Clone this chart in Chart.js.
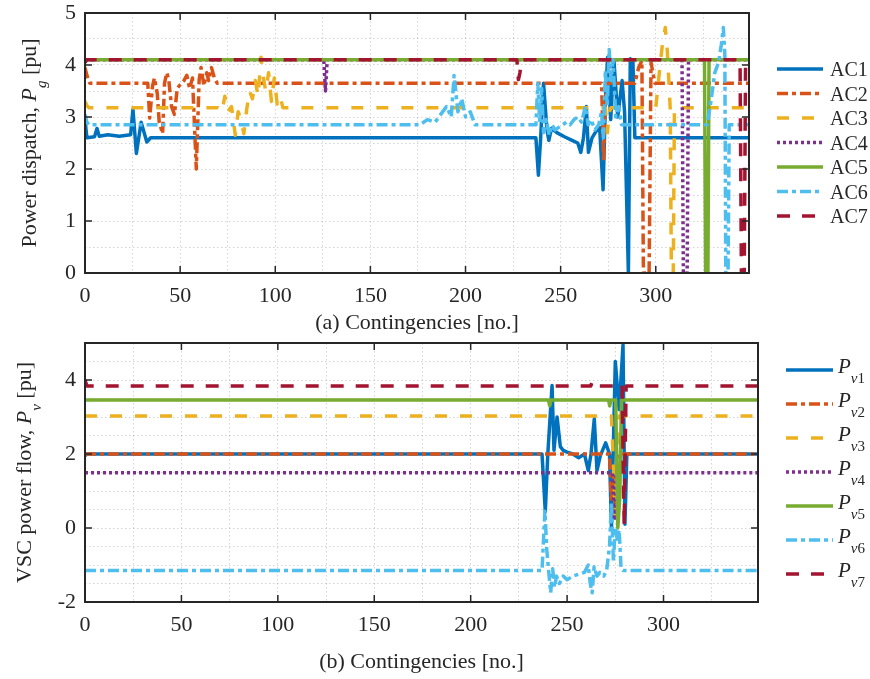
<!DOCTYPE html>
<html>
<head>
<meta charset="utf-8">
<script src="https://cdn.jsdelivr.net/npm/chart.js@4.4.1/dist/chart.umd.min.js"></script>
<style>
  html, body { margin: 0; padding: 0; background: #fff; }
  #wrap { position: relative; width: 870px; height: 679px; }
  canvas { position: absolute; left: 0; }
  #top { top: 0; }
  #bot { top: 340px; }
</style>
</head>
<body>
<div id="wrap">
  <canvas id="top" width="870" height="340"></canvas>
  <canvas id="bot" width="870" height="339"></canvas>
</div>
<script>
// axis ticks (grid every 25 / 0.5, labels on the coarser steps)
const X_MAX = 349;
const xGrid = [0, 25, 50, 75, 100, 125, 150, 175, 200, 225, 250, 275, 300, 325];
const xLabels = [0, 50, 100, 150, 200, 250, 300];
const topYGrid = [0, 0.5, 1, 1.5, 2, 2.5, 3, 3.5, 4, 4.5, 5];
const topYLabels = [0, 1, 2, 3, 4, 5];
const botYGrid = [-2, -1.5, -1, -0.5, 0, 0.5, 1, 1.5, 2, 2.5, 3, 3.5, 4, 4.5, 5];
const botYLabels = [-2, 0, 2, 4];

// (a) generator dispatch, breakpoints
const ac1X = [0, 1, 5, 6.3, 7.5, 12, 18, 24, 25.2, 27, 29.5, 32.5, 34.5, 237, 238.3, 239.5, 241, 242.8, 243.8, 245.2, 248, 252, 256, 259, 260.6, 262, 263.5, 264.6, 266.5, 268.5, 270.5, 272.3, 273.7, 274.7, 276.3, 278, 280, 282.3, 283.6, 285.6, 286.6, 288, 289, 349];
const ac1Y = [2.95, 2.6, 2.62, 2.78, 2.63, 2.66, 2.63, 2.66, 3.15, 2.3, 2.9, 2.52, 2.6, 2.6, 1.88, 2.6, 3.65, 2.75, 2.55, 2.78, 2.7, 2.62, 2.55, 2.5, 2.32, 2.6, 3.2, 2.32, 2.6, 2.72, 2.8, 1.6, 3.5, 4.15, 2.95, 4.1, 3.0, 3.7, 3.1, 0, 4.12, 4.05, 2.6, 2.6];
const ac2X = [0, 1, 2.5, 33, 34, 35.5, 36.5, 38, 39, 40.8, 41.8, 43, 44, 45.5, 47, 48.5, 50, 52, 53.5, 55, 56.5, 58.5, 60, 61, 62.5, 64, 65, 66.5, 68, 69.5, 271.5, 272.6, 273.5, 274.5, 289, 291, 292.7, 293.5, 296.5, 297.5, 299.5, 349];
const ac2Y = [3.95, 3.8, 3.65, 3.65, 2.98, 3.6, 3.75, 3.45, 2.9, 2.68, 3.65, 3.85, 3.72, 3.2, 3.05, 3.55, 3.62, 3.7, 3.8, 3.55, 3.75, 2.0, 3.72, 3.95, 3.6, 3.85, 3.7, 3.95, 3.75, 3.65, 3.65, 2.15, 3.3, 3.65, 3.65, 3.95, 4.08, 0, 0, 4.05, 3.65, 3.65];
const ac3X = [0, 1, 2, 70, 72, 73.5, 75, 77, 79, 80.5, 82, 83.5, 85, 86.5, 88, 89.5, 91, 92.5, 93.5, 95, 96.5, 98, 99.5, 101, 102.5, 104, 273.5, 274.6, 275.6, 276.5, 300, 302, 303.5, 305, 306, 307, 307.6, 308.2, 309.2, 309.8, 349];
const ac3Y = [3.3, 3.22, 3.18, 3.18, 3.1, 3.4, 3.1, 3.2, 2.65, 3.1, 2.95, 2.68, 3.15, 3.5, 3.35, 3.7, 3.4, 4.15, 3.8, 3.5, 3.85, 3.3, 3.75, 3.25, 3.4, 3.18, 3.18, 2.7, 3.1, 3.18, 3.18, 3.9, 4.4, 4.72, 4.3, 3.6, 3.15, 0, 0, 3.18, 3.18];
const ac4X = [0, 125.5, 126.4, 127.3, 274.6, 275.6, 276.6, 313.8, 314.5, 316.5, 317.2, 349];
const ac4Y = [4.1, 4.1, 3.5, 4.1, 4.1, 3.85, 4.1, 4.1, 0, 0, 4.1, 4.1];
const ac5X = [0, 325.6, 326.2, 327.4, 328, 349];
const ac5Y = [4.1, 4.1, 0, 0, 4.1, 4.1];
const ac6X = [0, 1, 2, 176, 180, 184, 187, 190, 192.5, 194, 196, 198, 200, 202.5, 205, 237, 238, 239, 240, 241, 242.5, 244, 245.5, 247, 249, 251, 253, 255, 257, 259, 261, 263, 264.5, 266, 268, 270, 271.5, 272.5, 273.5, 274.5, 275.5, 276.5, 277.5, 279, 280.5, 282, 327, 329, 331, 333, 334.5, 335.5, 336.3, 336.8, 338, 338.6, 349];
const ac6Y = [3.05, 2.9, 2.85, 2.85, 2.95, 2.9, 3.05, 3.2, 3.0, 3.8, 3.1, 3.35, 3.0, 3.1, 2.85, 2.85, 3.65, 2.9, 3.55, 2.7, 2.95, 2.65, 2.85, 2.75, 2.8, 2.85, 2.9, 2.85, 2.95, 3.0, 2.9, 3.2, 2.85, 2.95, 2.75, 2.85, 3.1, 2.6, 3.9, 3.2, 4.3, 3.7, 4.1, 3.0, 3.2, 2.85, 2.85, 3.3, 3.85, 4.05, 4.4, 4.72, 4.2, 0, 0, 2.85, 2.85];
const ac7X = [0, 1, 227, 227.8, 228.6, 229.4, 344.3, 345, 346.5, 347.2, 349];
const ac7Y = [4.05, 4.1, 4.1, 3.72, 3.85, 4.1, 4.1, 0, 0, 4.1, 4.1];

// (b) VSC power flows
const pv1X = [0, 1, 237, 238.7, 240, 242.2, 243.2, 244.8, 246.5, 248, 250, 253, 256, 259, 261, 262.4, 264.1, 265.5, 267.2, 270, 272, 273, 275, 277, 279, 280, 281, 349];
const pv1Y = [1.95, 2.0, 2.0, 0.45, 2.0, 3.85, 2.1, 3.0, 2.2, 2.1, 2.05, 2.0, 1.9, 2.0, 1.55, 2.0, 2.95, 1.55, 1.95, 2.3, 2.0, 0.0, 4.5, 3.2, 4.95, 0.1, 2.0, 2.0];
const pv2X = [0, 272, 273, 274, 275, 276, 349];
const pv2Y = [2.0, 2.0, 0.7, 1.5, 0.3, 2.0, 2.0];
const pv3X = [0, 273, 274, 275, 276, 277, 349];
const pv3Y = [3.03, 3.03, 1.8, 0.3, 2.3, 3.03, 3.03];
const pv4X = [0, 273.5, 274.5, 275.5, 349];
const pv4Y = [1.49, 1.49, 0.2, 1.49, 1.49];
const pv5X = [0, 240.3, 241, 241.7, 271.5, 272.1, 272.7, 275.2, 276.3, 277.3, 278.2, 349];
const pv5Y = [3.46, 3.46, 3.3, 3.46, 3.46, 3.3, 3.46, 3.46, 0.0, 0.8, 3.46, 3.46];
const pv6X = [0, 237, 238.5, 239.5, 240.5, 241.5, 242.5, 243.5, 244.5, 246, 248, 250, 253, 256, 259, 261, 262, 263, 264, 265.5, 267, 269, 270.5, 272, 273, 274, 275, 276, 277, 278, 279, 349];
const pv6Y = [-1.15, -1.15, 0.45, -0.6, -1.2, -1.75, -1.1, -1.6, -1.3, -1.5, -1.3, -1.4, -1.3, -1.25, -1.2, -1.0, -1.5, -1.75, -1.05, -1.3, -1.2, -1.3, -1.15, -0.5, 0.7, -0.9, 0.0, -0.3, -0.05, -1.1, -1.15, -1.15];
const pv7X = [0, 1, 262.3, 263, 263.7, 277, 278.5, 279.6, 280.6, 349];
const pv7Y = [4.0, 3.84, 3.84, 3.95, 3.84, 3.84, 3.9, 0.05, 3.84, 3.84];

const acNames = ['AC1', 'AC2', 'AC3', 'AC4', 'AC5', 'AC6', 'AC7'];
const pvSubs = ['1', '2', '3', '4', '5', '6', '7'];

// MATLAB default colour order + line styles
const colors = ['#0072BD', '#D95319', '#EDB120', '#7E2F8E', '#77AC30', '#4DBEEE', '#A2142F'];
const dashes = [[], [11, 4, 4, 4], [12, 13], [3, 3], [], [11, 4, 4, 4], [13, 12]];

const FONT = "'Liberation Serif', 'Times New Roman', serif";
const INK = '#262626';
const GRID = 'rgba(0,0,0,0.17)';

function series(xs, ys) {
  return xs.map((x, i) => ({ x: x, y: ys[i] }));
}

function makeSets(pairs) {
  return pairs.map((p, i) => ({
    data: series(p[0], p[1]),
    borderColor: colors[i],
    backgroundColor: colors[i],
    borderDash: dashes[i],
    borderWidth: 3.5,
    borderJoinStyle: 'round',
    pointRadius: 0,
    tension: 0,
    fill: false,
    clip: 0,
    order: 7 - i
  }));
}

function textWidth(ctx, parts) {
  let w = 0;
  parts.forEach(p => { ctx.font = p.font; w += ctx.measureText(p.text).width; });
  return w;
}

function drawParts(ctx, parts, x, y) {
  let cx = x;
  parts.forEach(p => {
    ctx.font = p.font;
    ctx.fillText(p.text, cx, y + (p.dy || 0));
    cx += ctx.measureText(p.text).width;
  });
}

// box, inward ticks, y title with subscript, legend
const decor = {
  id: 'decor',
  afterDraw(chart, args, o) {
    const ctx = chart.ctx, a = chart.chartArea, sx = chart.scales.x, sy = chart.scales.y;
    ctx.save();
    ctx.strokeStyle = INK;
    ctx.setLineDash([]);
    ctx.lineWidth = 1.5;
    ctx.beginPath();
    o.xMarks.forEach(v => {
      const px = sx.getPixelForValue(v);
      ctx.moveTo(px, a.bottom); ctx.lineTo(px, a.bottom - 7);
      ctx.moveTo(px, a.top); ctx.lineTo(px, a.top + 7);
    });
    o.yMarks.forEach(v => {
      const py = sy.getPixelForValue(v);
      ctx.moveTo(a.left, py); ctx.lineTo(a.left + 7, py);
      ctx.moveTo(a.right, py); ctx.lineTo(a.right - 7, py);
    });
    ctx.stroke();
    ctx.lineWidth = 2;
    ctx.strokeRect(a.left, a.top, a.right - a.left, a.bottom - a.top);

    // y axis title (rotated)
    ctx.fillStyle = INK;
    ctx.textBaseline = 'alphabetic';
    ctx.textAlign = 'left';
    ctx.save();
    ctx.translate(o.yTitleX, (a.top + a.bottom) / 2);
    ctx.rotate(-Math.PI / 2);
    drawParts(ctx, o.yTitle, -textWidth(ctx, o.yTitle) / 2, 0);
    ctx.restore();

    // legend
    const L = o.legend;
    chart.data.datasets.forEach((ds, i) => {
      const y = L.y0 + i * L.step;
      ctx.strokeStyle = ds.borderColor;
      ctx.lineWidth = ds.borderWidth;
      ctx.setLineDash(ds.borderDash);
      ctx.beginPath();
      ctx.moveTo(L.x0, y);
      ctx.lineTo(L.x1, y);
      ctx.stroke();
      ctx.fillStyle = INK;
      drawParts(ctx, L.label(i), L.textX, y + L.dy);
    });
    ctx.restore();
  }
};

function flatPad(s) {
  s.paddingTop = 0; s.paddingBottom = 0; s.paddingLeft = 0; s.paddingRight = 0;
}

function xAxis(title, height) {
  return {
    type: 'linear', min: 0, max: X_MAX,
    afterBuildTicks: s => { s.ticks = xGrid.map(v => ({ value: v })); },
    afterFit: s => { s.height = height; flatPad(s); },
    ticks: {
      callback: v => xLabels.includes(v) ? String(v) : '',
      font: { family: FONT, size: 22 }, color: INK, padding: 10,
      autoSkip: false, maxRotation: 0
    },
    grid: { color: GRID, lineWidth: 1, drawTicks: false },
    border: { display: false, dash: [1.5, 2.5] },
    title: { display: true, text: title, font: { family: FONT, size: 22 }, color: INK, padding: { top: 0, bottom: 4 } }
  };
}

function yAxis(min, max, grid, labels) {
  return {
    type: 'linear', min: min, max: max,
    afterBuildTicks: s => { s.ticks = grid.map(v => ({ value: v })); },
    afterFit: s => { s.width = 85; flatPad(s); },
    ticks: {
      callback: v => labels.includes(v) ? String(v) : '',
      font: { family: FONT, size: 22 }, color: INK, padding: 9, autoSkip: false
    },
    grid: { color: GRID, lineWidth: 1, drawTicks: false },
    border: { display: false, dash: [1.5, 2.5] }
  };
}

const regular = '22px ' + FONT;
const italic = 'italic 22px ' + FONT;
const subItalic = 'italic 15px ' + FONT;

new Chart(document.getElementById('top'), {
  type: 'line',
  data: {
    datasets: makeSets([[ac1X, ac1Y], [ac2X, ac2Y], [ac3X, ac3Y], [ac4X, ac4Y], [ac5X, ac5Y], [ac6X, ac6Y], [ac7X, ac7Y]])
  },
  options: {
    responsive: false, animation: false, events: [],
    layout: { padding: { left: 0, right: 121, top: 13, bottom: 0 } },
    scales: {
      x: xAxis('(a) Contingencies [no.]', 67),
      y: yAxis(0, 5, topYGrid, topYLabels)
    },
    plugins: {
      legend: { display: false }, tooltip: { enabled: false },
      decor: {
        xMarks: xLabels, yMarks: topYLabels, yTitleX: 36,
        yTitle: [
          { text: 'Power dispatch, ', font: regular },
          { text: 'P', font: italic },
          { text: 'g', font: subItalic, dy: 10 },
          { text: ' [pu]', font: regular }
        ],
        legend: {
          x0: 777, x1: 823, y0: 69, step: 24.5, textX: 830, dy: 7,
          label: i => [{ text: acNames[i], font: '20px ' + FONT }]
        }
      }
    }
  },
  plugins: [decor]
});

new Chart(document.getElementById('bot'), {
  type: 'line',
  data: {
    datasets: makeSets([[pv1X, pv1Y], [pv2X, pv2Y], [pv3X, pv3Y], [pv4X, pv4Y], [pv5X, pv5Y], [pv6X, pv6Y], [pv7X, pv7Y]])
  },
  options: {
    responsive: false, animation: false, events: [],
    layout: { padding: { left: 0, right: 112, top: 3, bottom: 0 } },
    scales: {
      x: xAxis('(b) Contingencies [no.]', 77),
      y: yAxis(-2, 5, botYGrid, botYLabels)
    },
    plugins: {
      legend: { display: false }, tooltip: { enabled: false },
      decor: {
        xMarks: xLabels, yMarks: botYLabels, yTitleX: 31,
        yTitle: [
          { text: 'VSC power flow, ', font: regular },
          { text: 'P', font: italic },
          { text: 'v', font: subItalic, dy: 10 },
          { text: ' [pu]', font: regular }
        ],
        legend: {
          x0: 786, x1: 833, y0: 30, step: 34, textX: 838, dy: 3,
          label: i => [
            { text: 'P', font: 'italic 21px ' + FONT },
            { text: 'v', font: 'italic 15px ' + FONT, dy: 10 },
            { text: pvSubs[i], font: '15px ' + FONT, dy: 10 }
          ]
        }
      }
    }
  },
  plugins: [decor]
});
</script>
</body>
</html>
